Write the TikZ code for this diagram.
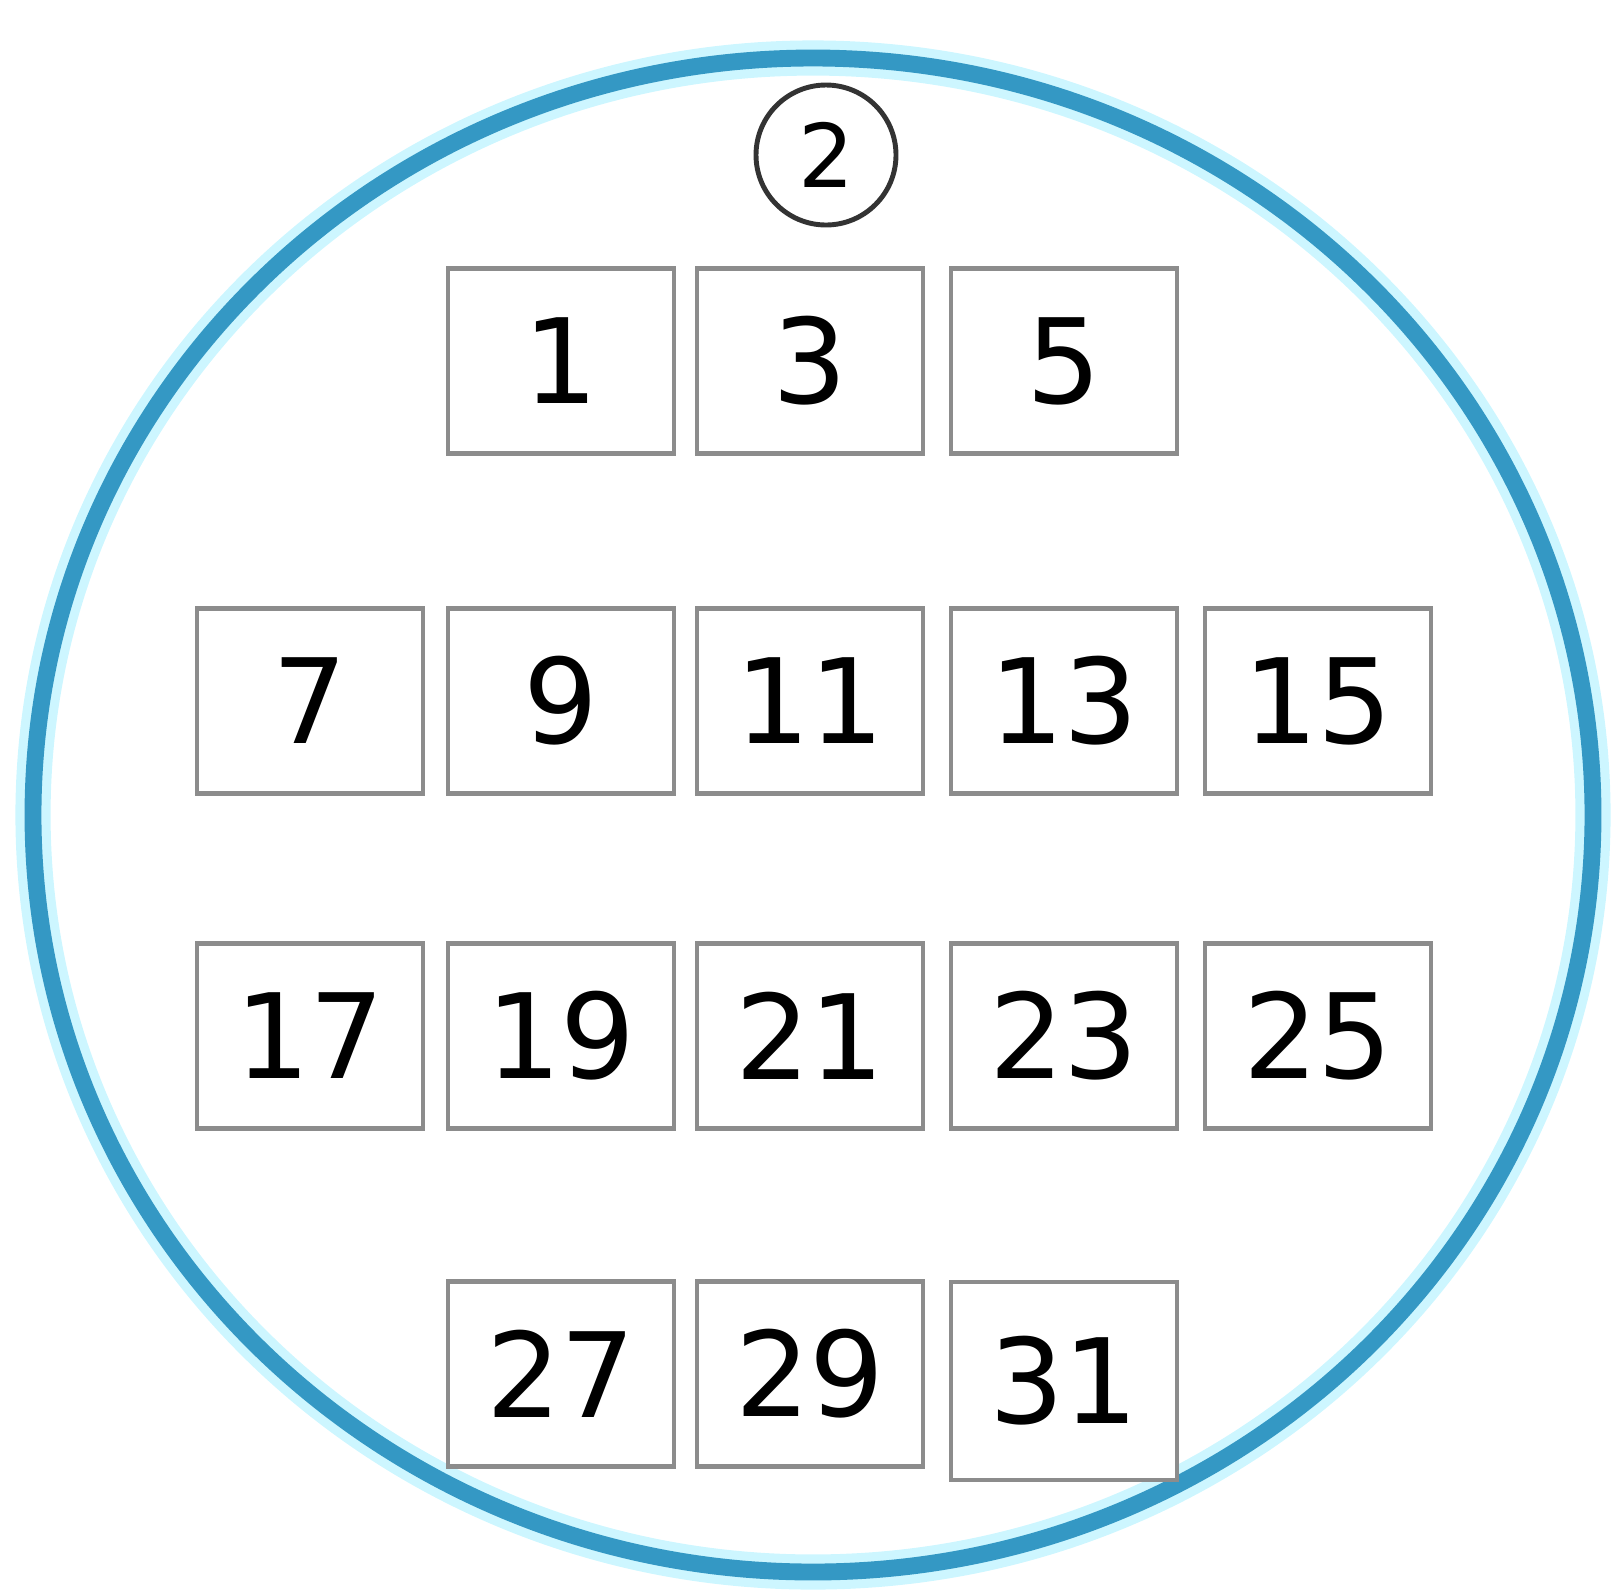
\documentclass[tikz,border=0pt]{standalone}
\usepackage{fontspec}
\setmainfont{DejaVu Sans}
\usepackage{tikz}
\usetikzlibrary{
  calc,        % 坐标计算
  positioning  % 节点相对定位
}
\definecolor{ringblue}{RGB}{52,152,196}
\definecolor{ringglow}{RGB}{205,246,255}
\tikzset{
  seat/.style={
    draw=gray!90,
    line width=1.3pt,
    fill=white,
    minimum width=2.26cm,
    minimum height=1.85cm,
    inner sep=0pt,
    font=\fontsize{33.5}{40}\selectfont
  },
  ring/.style={
    draw=ringblue,
    line width=4.8pt
  },
  ring glow/.style={
    draw=ringglow,
    line width=10pt
  },
  tag/.style={
    circle,
    draw=black!80,
    line width=1.4pt,
    minimum size=1.40cm,
    inner sep=0pt,
    font=\fontsize{25}{30}\selectfont
  }
}

\begin{document}
\begin{tikzpicture}
  % 画布范围
  \useasboundingbox (0,0) rectangle (16.19,-15.90);

  % ==== 1. 外圈 ====
  \draw[ring glow] (8.13,-8.15) ellipse (7.80 and 7.57);
  \draw[ring] (8.13,-8.15) ellipse (7.80 and 7.57);

  % ==== 2. 顶部编号 ====
  \node[tag] (tag) at (8.26,-1.55) {2};

  % ==== 3. 座位 ====
  % 第一排
  \node[seat] (s1) at (5.61,-3.61) {1};
  \node[seat] (s3) at (8.10,-3.61) {3};
  \node[seat] (s5) at (10.64,-3.61) {5};

  % 第二排
  \node[seat] (s7) at (3.10,-7.01) {7};
  \node[seat] (s9) at (5.61,-7.01) {9};
  \node[seat] (s11) at (8.10,-7.01) {11};
  \node[seat] (s13) at (10.64,-7.01) {13};
  \node[seat] (s15) at (13.18,-7.01) {15};

  % 第三排
  \node[seat] (s17) at (3.10,-10.36) {17};
  \node[seat] (s19) at (5.61,-10.36) {19};
  \node[seat] (s21) at (8.10,-10.36) {21};
  \node[seat] (s23) at (10.64,-10.36) {23};
  \node[seat] (s25) at (13.18,-10.36) {25};

  % 第四排
  \node[seat] (s27) at (5.61,-13.74) {27};
  \node[seat] (s29) at (8.10,-13.74) {29};
  \node[seat, minimum height=1.98cm] (s31) at (10.64,-13.81) {31};

\end{tikzpicture}
\end{document}
